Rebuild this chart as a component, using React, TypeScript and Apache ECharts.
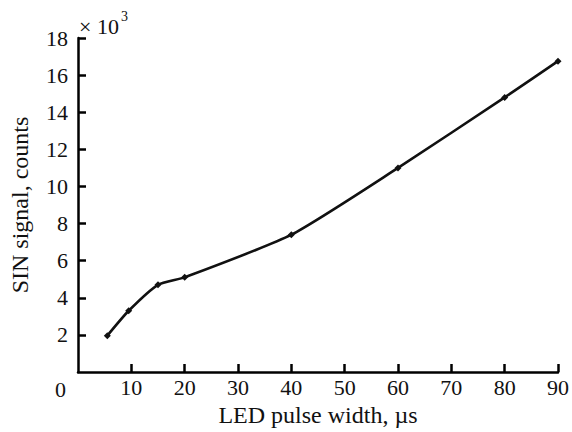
import React, { useEffect, useRef } from "react";
import * as echarts from "echarts";

// LED pulse width (µs) and SIN signal (×10³ counts)
const pulseWidth = [5.5, 9.5, 15, 20, 40, 60, 80, 90];
const signal = [1.96, 3.3, 4.7, 5.1, 7.4, 11.0, 14.8, 16.75];

const xTitle = "LED pulse width, µs";
const yTitle = "SIN signal, counts";

const FONT = "Liberation Serif";

export default function App() {
  const ref = useRef<HTMLDivElement>(null);

  useEffect(() => {
    if (!ref.current) return;
    const chart = echarts.init(ref.current, null, { renderer: "svg" });
    const axisText = { color: "#111", fontFamily: FONT, fontSize: 22 };
    chart.setOption({
      animation: false,
      backgroundColor: "#fff",
      grid: { left: 78, right: 13, top: 38, bottom: 57 },
      xAxis: {
        type: "value",
        min: 0,
        max: 90,
        interval: 10,
        name: xTitle,
        nameLocation: "middle",
        nameGap: 31,
        nameTextStyle: { ...axisText, fontSize: 24 },
        axisLine: { lineStyle: { color: "#000", width: 2.5 } },
        axisTick: { inside: true, length: 8, lineStyle: { color: "#000", width: 2.5 } },
        axisLabel: { ...axisText, margin: 4, showMinLabel: false },
        splitLine: { show: false },
      },
      yAxis: {
        type: "value",
        min: 0,
        max: 18,
        interval: 2,
        name: yTitle,
        nameLocation: "middle",
        nameGap: 46,
        nameTextStyle: { ...axisText, fontSize: 24 },
        axisLine: { show: true, lineStyle: { color: "#000", width: 2.5 } },
        axisTick: { show: true, inside: true, length: 8, lineStyle: { color: "#000", width: 2.5 } },
        axisLabel: { ...axisText, margin: 10, showMinLabel: false },
        splitLine: { show: false },
      },
      graphic: [
        {
          type: "text",
          left: 55,
          top: 378,
          style: { text: "0", fill: "#111", fontFamily: FONT, fontSize: 22 },
        },
        {
          type: "text",
          left: 79,
          top: 15,
          style: { text: "× 10", fill: "#111", fontFamily: FONT, fontSize: 22 },
        },
        {
          type: "text",
          left: 121,
          top: 9,
          style: { text: "3", fill: "#111", fontFamily: FONT, fontSize: 14 },
        },
      ],
      series: [
        {
          type: "line",
          data: pulseWidth.map((x, i) => [x, signal[i]]),
          smooth: 0.2,
          symbol: "diamond",
          symbolSize: 7,
          itemStyle: { color: "#111" },
          lineStyle: { color: "#111", width: 2.6 },
        },
      ],
    });
    return () => chart.dispose();
  }, []);

  return (
    <div
      ref={ref}
      style={{ position: "fixed", left: 0, top: 0, width: 572, height: 432 }}
    />
  );
}
